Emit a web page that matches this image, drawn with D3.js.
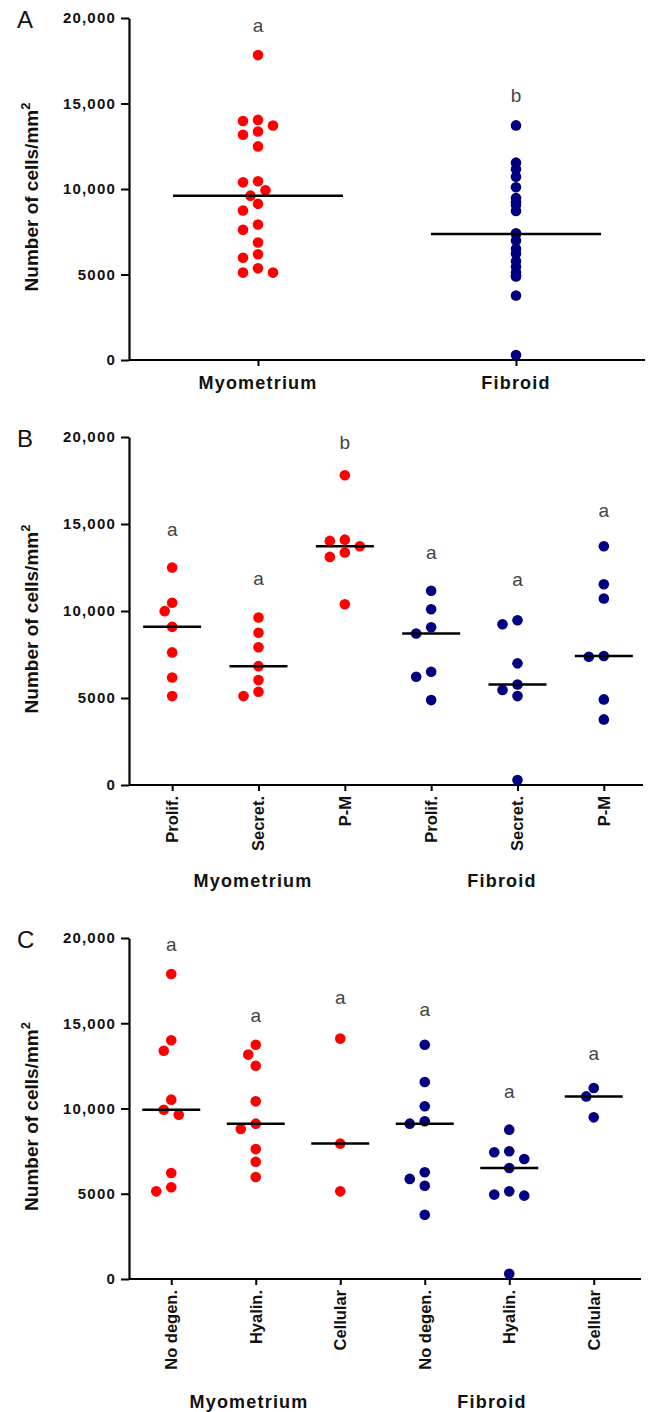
<!DOCTYPE html>
<html>
<head>
<meta charset="utf-8">
<script src="https://cdn.jsdelivr.net/npm/d3@7"></script>
<style>
  body { margin: 0; background: #fff; }
  svg { display: block; font-family: "Liberation Sans", Arial, sans-serif; }
</style>
</head>
<body>
<svg id="chart" width="648" height="1412"></svg>
<script>
// ---- data (cells/mm2) ----
const groupsA = ["Myometrium", "Fibroid"];
const phaseCats = ["Prolif.", "Secret.", "P-M"];
const degenCats = ["No degen.", "Hyalin.", "Cellular"];

// panel A: all samples
const myoAll = [17830, 14040, 13980, 13710, 13360, 13170, 12490, 10450, 10390, 9920, 9610, 9130, 8740, 7920, 7610, 6870, 6180, 5980, 5360, 5110, 5110];
const fibAll = [13720, 11540, 11160, 10720, 10100, 9470, 9240, 9070, 8710, 7410, 7370, 6990, 6510, 6220, 5780, 5460, 5110, 4920, 4880, 3770, 290];

// panel B: by menstrual phase
const myoProlif = [12500, 10470, 9990, 9090, 7620, 6180, 5110];
const myoSecret = [9630, 8750, 7920, 6830, 6030, 5360, 5110];
const myoPM = [17800, 14100, 14030, 13720, 13360, 13110, 10390];
const fibProlif = [11160, 10100, 9070, 8710, 6510, 6220, 4880];
const fibSecret = [9470, 9240, 6990, 5780, 5460, 5110, 290];
const fibPM = [13720, 11540, 10720, 7410, 7370, 4920, 3770];

// panel C: by degeneration type
const myoNoDegen = [17890, 14000, 13390, 10520, 9930, 9640, 6220, 5380, 5140];
const myoHyalin = [13740, 13160, 12510, 10420, 9110, 8800, 7620, 6880, 5980];
const myoCellular = [14100, 7940, 5140];
const fibNoDegen = [13740, 11550, 10130, 9250, 9110, 6260, 5870, 5470, 3770];
const fibHyalin = [8760, 7490, 7430, 7040, 6510, 5140, 4950, 4890, 310];
const fibCellular = [11200, 10710, 9480];

// significance letters and the value they sit at
const lettersA = ["a", "b"];
const letterValsA = [19500, 15450];
const lettersB = ["a", "a", "b", "a", "a", "a"];
const letterValsB = [14640, 11810, 19650, 13340, 11770, 15750];
const lettersC = ["a", "a", "a", "a", "a", "a"];
const letterValsC = [19550, 15400, 16440, 15760, 10970, 13160];

const yTicks = [0, 5000, 10000, 15000, 20000];

const RED = "#ff0000", BLUE = "#000080";
const svg = d3.select("#chart");

// simple beeswarm: offsets in half-dot steps, smallest free slot wins
function swarm(vals, cx, y, spread) {
    const step = 7.5, minDist = 11;
    const placed = [];
    vals.slice().sort((a, b) => b - a).forEach(v => {
        const py = y(v);
        if (!spread) { placed.push({ x: cx, y: py }); return; }
        for (let k = 0; k < 20; k++) {
            const off = k === 0 ? 0 : (k % 2 ? -1 : 1) * Math.ceil(k / 2) * step;
            const ok = placed.every(p => (p.x - cx - off) ** 2 + (p.y - py) ** 2 >= minDist * minDist);
            if (ok) { placed.push({ x: cx + off, y: py }); break; }
        }
    });
    return placed;
}

function drawPanel(cfg) {
    const g = svg.append("g");
    const y = d3.scaleLinear().domain([0, 20000]).range([cfg.bottom, cfg.top]);
    const x = d3.scalePoint().domain(cfg.cats).range([cfg.left, cfg.right]).padding(0.5);

    // y axis
    const yAxis = g.append("g")
        .attr("transform", `translate(${cfg.left},0)`)
        .call(d3.axisLeft(y).tickValues(yTicks).tickSize(8).tickSizeOuter(0).tickPadding(5)
            .tickFormat(d => d >= 10000 ? d3.format(",")(d) : d));
    yAxis.select(".domain").attr("stroke-width", 2.2);
    yAxis.selectAll(".tick line").attr("stroke-width", 2);
    yAxis.selectAll("text").attr("font-size", 15).attr("font-weight", "bold")
        .attr("letter-spacing", 1.2).attr("fill", "#111");

    // x axis
    const xAxis = g.append("g")
        .attr("transform", `translate(0,${cfg.bottom})`)
        .call(d3.axisBottom(x).tickSize(6).tickSizeOuter(0));
    xAxis.select(".domain").attr("stroke-width", 2.2);
    xAxis.selectAll(".tick line").attr("stroke-width", 2);
    xAxis.selectAll(".tick text").remove();
    xAxis.select(".domain").attr("d", `M${cfg.left},0H${cfg.axisEnd}`);

    if (cfg.rotated) {
        g.selectAll(".cat")
            .data(cfg.cats)
            .join("text")
            .attr("class", "cat")
            .attr("transform", d => `translate(${x(d)},${cfg.bottom + 11}) rotate(-90)`)
            .attr("dy", "0.36em")
            .attr("text-anchor", "end")
            .attr("font-size", 16.5)
            .attr("font-weight", "bold")
            .attr("fill", "#111")
            .text(d => d.replace(/#.*/, ""));

        cfg.groupLabels.forEach((lab, i) => {
            g.append("text")
                .attr("x", cfg.groupX[i])
                .attr("y", cfg.groupY)
                .attr("text-anchor", "middle")
                .attr("font-size", 18)
                .attr("font-weight", "bold")
                .attr("letter-spacing", 1.2)
                .attr("fill", "#111")
                .text(lab);
        });
    } else {
        g.selectAll(".cat")
            .data(cfg.cats)
            .join("text")
            .attr("class", "cat")
            .attr("x", d => x(d))
            .attr("y", cfg.bottom + 29)
            .attr("text-anchor", "middle")
            .attr("font-size", 18)
            .attr("font-weight", "bold")
            .attr("letter-spacing", 1.2)
            .attr("fill", "#111")
            .text(d => d);
    }

    // y title
    const cy = (cfg.top + cfg.bottom) / 2 + 8;
    const title = g.append("text")
        .attr("transform", `translate(38,${cy}) rotate(-90)`)
        .attr("text-anchor", "middle")
        .attr("font-size", 19)
        .attr("font-weight", "bold")
        .attr("fill", "#111");
    title.append("tspan").text("Number of cells/mm");
    title.append("tspan").attr("font-size", 13).attr("dy", -8).text("2");

    // panel letter
    g.append("text")
        .attr("x", 17)
        .attr("y", cfg.top + 10)
        .attr("font-size", 24)
        .attr("fill", "#111")
        .text(cfg.panel);

    // dots + medians
    cfg.series.forEach((vals, i) => {
        const cx = x(cfg.cats[i]);
        const col = cfg.colors[i];
        const pts = swarm(vals, cx, y, cfg.spread ? cfg.spread[i] : true);
        g.append("g").selectAll("circle")
            .data(pts)
            .join("circle")
            .attr("cx", d => d.x)
            .attr("cy", d => d.y)
            .attr("r", 5.3)
            .attr("fill", col);

        const med = d3.median(vals);
        g.append("line")
            .attr("x1", cx - cfg.medHalf).attr("x2", cx + cfg.medHalf)
            .attr("y1", y(med)).attr("y2", y(med))
            .attr("stroke", "#000")
            .attr("stroke-width", 2.5);
    });

    // letters
    cfg.letters.forEach((l, i) => {
        g.append("text")
            .attr("x", x(cfg.cats[i]))
            .attr("y", y(cfg.letterVals[i]))
            .attr("dy", "0.3em")
            .attr("text-anchor", "middle")
            .attr("font-size", 19)
            .attr("fill", "#444")
            .text(l);
    });
}

// categories need unique keys for the point scale
const catsB = phaseCats.map(c => c + "#m").concat(phaseCats.map(c => c + "#f"));
const catsC = degenCats.map(c => c + "#m").concat(degenCats.map(c => c + "#f"));

drawPanel({
    panel: "A", top: 18, bottom: 360, left: 129, right: 645, axisEnd: 645,
    cats: groupsA, rotated: false, medHalf: 85,
    series: [myoAll, fibAll], colors: [RED, BLUE], spread: [true, false],
    letters: lettersA, letterVals: letterValsA
});

drawPanel({
    panel: "B", top: 437, bottom: 785, left: 129, right: 647, axisEnd: 643,
    cats: catsB, rotated: true, medHalf: 29,
    series: [myoProlif, myoSecret, myoPM, fibProlif, fibSecret, fibPM],
    colors: [RED, RED, RED, BLUE, BLUE, BLUE],
    letters: lettersB, letterVals: letterValsB,
    groupLabels: ["Myometrium", "Fibroid"], groupX: [253, 502], groupY: 887
});

drawPanel({
    panel: "C", top: 938, bottom: 1279, left: 129, right: 636, axisEnd: 641,
    cats: catsC, rotated: true, medHalf: 29,
    series: [myoNoDegen, myoHyalin, myoCellular, fibNoDegen, fibHyalin, fibCellular],
    colors: [RED, RED, RED, BLUE, BLUE, BLUE],
    letters: lettersC, letterVals: letterValsC,
    groupLabels: ["Myometrium", "Fibroid"], groupX: [249, 492], groupY: 1408
});
</script>
</body>
</html>
